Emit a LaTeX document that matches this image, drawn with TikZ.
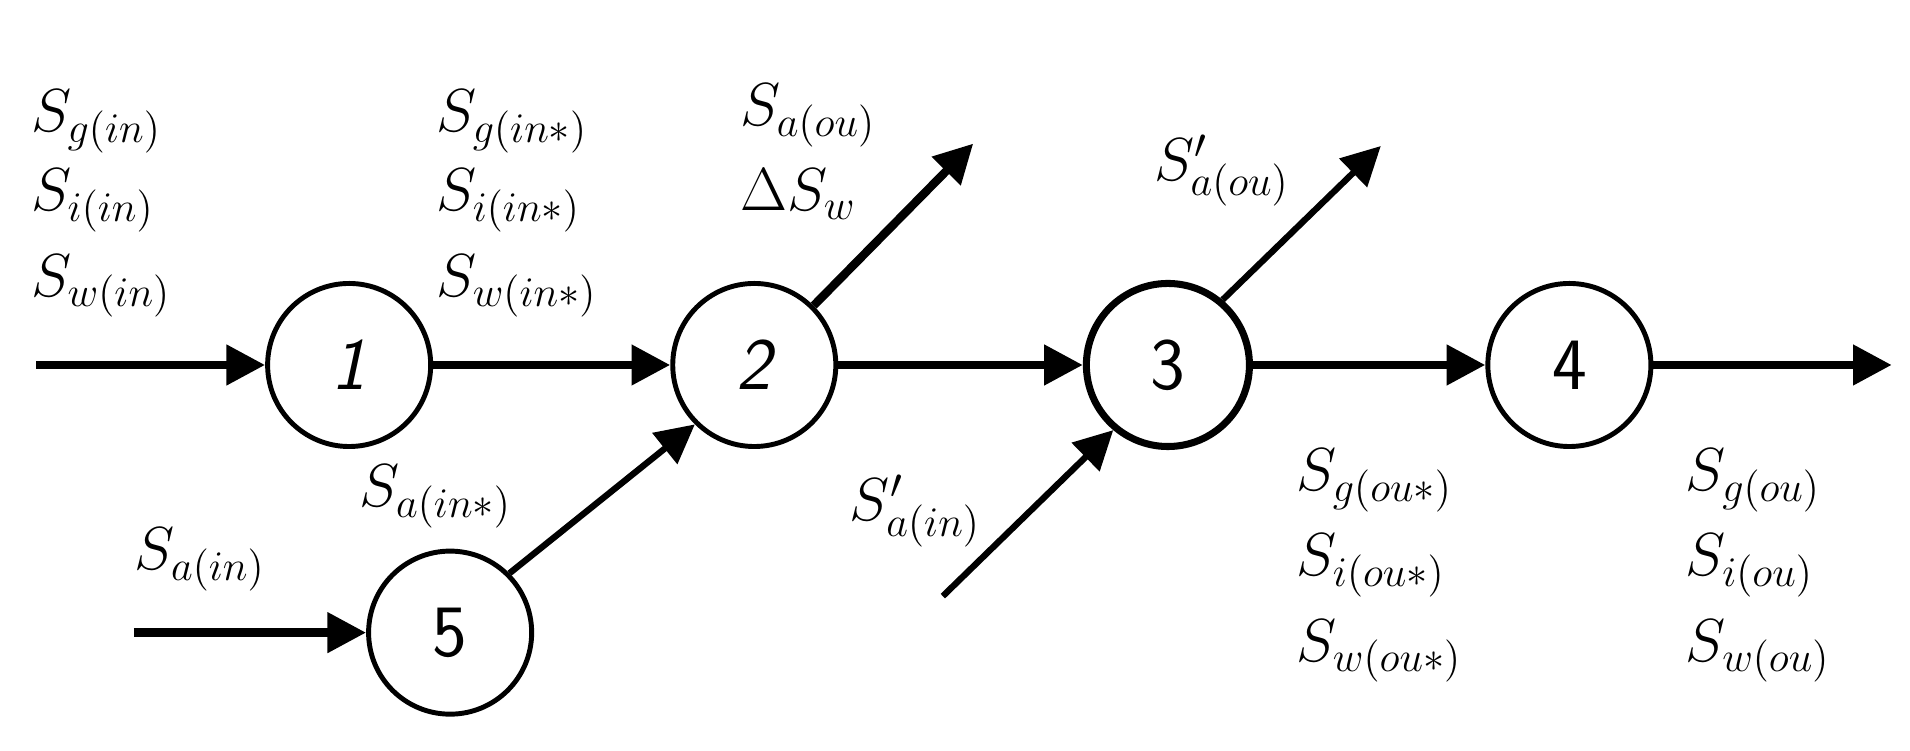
\documentclass[tikz,border=0pt]{standalone}
\usetikzlibrary{arrows.meta}
\begin{document}
\begin{tikzpicture}[x=0.012166cm,y=-0.012166cm,
  st/.style={circle,draw,line width=1.4pt,minimum size=1.63cm,inner sep=0pt,font=\sffamily\fontsize{21}{24}\selectfont},
  ar/.style={line width=2.4pt,-{Triangle[length=11pt,width=11pt]}},
  lab/.style={anchor=west,inner sep=0pt,font=\fontsize{18.5}{22}\selectfont}]
\useasboundingbox (0,0) rectangle (1570,616.5);
\node[st] (n1) at (287,300) {\itshape 1};
\node[st] (n2) at (620,300) {\itshape 2};
\node[st,line width=2pt] (n3) at (960,300) {3};
\node[st] (n4) at (1290,300) {4};
\node[st] (n5) at (370,520) {5};
\coordinate (a0) at (30,300);
\coordinate (b0) at (110,520);
\coordinate (c0) at (775,490);
\coordinate (o2) at (800,118);
\coordinate (o3) at (1135,120);
\coordinate (e4) at (1555,300);
\draw[ar] (a0) -- (n1.west);
\draw[ar] (n1.east) -- (n2.west);
\draw[ar] (n2.east) -- (n3.west);
\draw[ar] (n3.east) -- (n4.west);
\draw[ar] (n4.east) -- (e4);
\draw[ar] (b0) -- (n5.west);
\draw[ar,line width=1.8pt] (n5.45) -- (n2.225);
\draw[ar] (n2.45) -- (o2);
\draw[ar,line width=1.8pt] (n3.50) -- (o3);
\draw[ar,line width=1.8pt] (c0) -- (n3.230);
\node[lab] (l1) at (25,100) {$S_{g(in)}$};
\node[lab] (l2) at (25,165) {$S_{i(in)}$};
\node[lab] (l3) at (25,235) {$S_{w(in)}$};
\node[lab] (m1) at (358,100) {$S_{g(in\ast)}$};
\node[lab] (m2) at (358,165) {$S_{i(in\ast)}$};
\node[lab] (m3) at (358,235) {$S_{w(in\ast)}$};
\node[lab] (p1) at (608,95) {$S_{a(ou)}$};
\node[lab] (p2) at (608,160) {$\Delta S_{w}$};
\node[lab] (q1) at (948,140) {$S'_{a(ou)}$};
\node[lab] (r1) at (295,408) {$S_{a(in\ast)}$};
\node[lab] (r2) at (110,460) {$S_{a(in)}$};
\node[lab] (r3) at (698,420) {$S'_{a(in)}$};
\node[lab] (s1) at (1065,395) {$S_{g(ou\ast)}$};
\node[lab] (s2) at (1065,465) {$S_{i(ou\ast)}$};
\node[lab] (s3) at (1065,535) {$S_{w(ou\ast)}$};
\node[lab] (t1) at (1385,395) {$S_{g(ou)}$};
\node[lab] (t2) at (1385,465) {$S_{i(ou)}$};
\node[lab] (t3) at (1385,535) {$S_{w(ou)}$};
\end{tikzpicture}
\end{document}
